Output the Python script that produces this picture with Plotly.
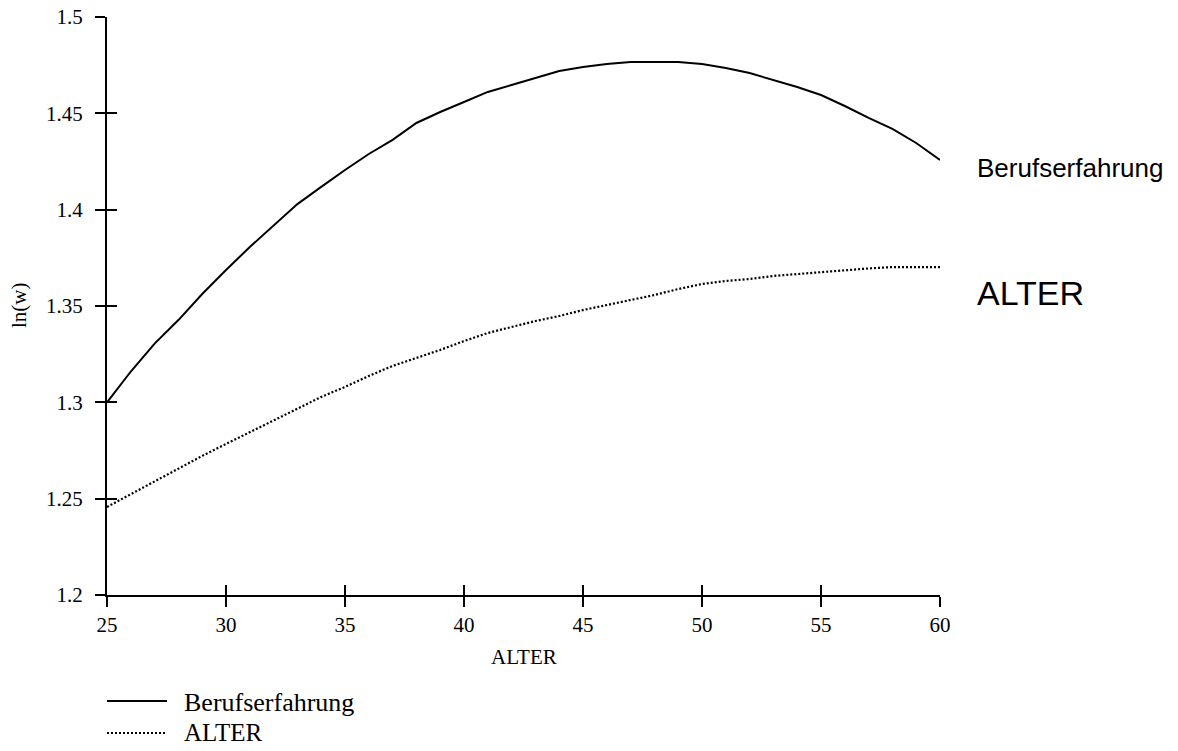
import plotly.graph_objects as go

# ---- data ----
alter = list(range(25, 61))
berufserfahrung = [
    1.3000, 1.3160, 1.3305, 1.3427, 1.3562, 1.3687, 1.3806, 1.3920, 1.4029, 1.4118,
    1.4206, 1.4289, 1.4362, 1.4450, 1.4507, 1.4559, 1.4611, 1.4647, 1.4683, 1.4720,
    1.4740, 1.4756, 1.4766, 1.4766, 1.4766, 1.4756, 1.4735, 1.4709, 1.4673, 1.4637,
    1.4595, 1.4538, 1.4476, 1.4419, 1.4346, 1.4258,
]
alter_curve = [
    1.2457, 1.2524, 1.2592, 1.2659, 1.2722, 1.2784, 1.2846, 1.2908, 1.2968, 1.3028,
    1.3080, 1.3137, 1.3189, 1.3230, 1.3272, 1.3318, 1.3360, 1.3391, 1.3422, 1.3448,
    1.3479, 1.3505, 1.3531, 1.3557, 1.3588, 1.3614, 1.3630, 1.3640, 1.3656, 1.3666,
    1.3676, 1.3687, 1.3695, 1.3702, 1.3702, 1.3702,
]
x_ticks = [25, 30, 35, 40, 45, 50, 55, 60]
y_ticks = [1.2, 1.25, 1.3, 1.35, 1.4, 1.45, 1.5]
x_range = [25, 60]
y_range = [1.2, 1.5]
series_names = ["Berufserfahrung", "ALTER"]
x_title = "ALTER"
y_title = "ln(w)"

SERIF = "Liberation Serif, Times New Roman, serif"
SANS = "Liberation Sans, Arial, sans-serif"

fig = go.Figure()
fig.add_trace(go.Scatter(
    x=alter, y=berufserfahrung, mode="lines", name=series_names[0],
    line=dict(color="black", width=2), xaxis="x", yaxis="y",
))
fig.add_trace(go.Scatter(
    x=alter, y=alter_curve, mode="lines", name=series_names[1],
    line=dict(color="black", width=2.2, dash="2px,2px"), xaxis="x2", yaxis="y2",
))

EPS = 1e-6
common_x = dict(range=[x_range[0] - EPS, x_range[1] + EPS], tickmode="array",
                tickvals=x_ticks, showgrid=False, zeroline=False, ticklen=10,
                tickwidth=2, tickcolor="black", automargin=False,
                ticklabeloverflow="allow")
common_y = dict(range=[y_range[0] - EPS, y_range[1] + EPS], tickmode="array",
                tickvals=y_ticks, ticktext=[f"{v:g}" for v in y_ticks],
                showgrid=False, zeroline=False, ticklen=10,
                tickwidth=2, tickcolor="black", automargin=False,
                ticklabeloverflow="allow")

# plot area at 107..940 x 17..595 in the 1178x751 window
fig.update_layout(
    width=1178, height=751,
    margin=dict(l=107, r=1178 - 940, t=17, b=751 - 595),
    paper_bgcolor="white", plot_bgcolor="white",
    showlegend=False,
    xaxis=dict(**common_x, ticks="outside", showline=True, linewidth=2,
               linecolor="black",
               tickfont=dict(family=SERIF, size=21, color="black")),
    yaxis=dict(**common_y, ticks="outside", showline=True, linewidth=2,
               linecolor="black", ticklabelstandoff=8,
               tickfont=dict(family=SERIF, size=21, color="black")),
    xaxis2=dict(**common_x, ticks="inside", overlaying="x", showline=False,
                showticklabels=False, anchor="y2"),
    yaxis2=dict(**common_y, ticks="inside", overlaying="y", showline=False,
                showticklabels=False, anchor="x2"),
)

PW, PH = 833.0, 578.0


def px_x(p):
    return (p - 107) / PW


def px_y(p):
    return (595 - p) / PH


annotations = [
    # axis titles
    dict(text=x_title, x=px_x(524), y=px_y(657), xref="paper", yref="paper",
         showarrow=False, xanchor="center", yanchor="middle",
         font=dict(family=SERIF, size=21, color="black")),
    dict(text=y_title, x=px_x(19), y=px_y(305), xref="paper", yref="paper",
         showarrow=False, xanchor="center", yanchor="middle", textangle=-90,
         font=dict(family=SERIF, size=21, color="black")),
    # curve labels at right
    dict(text=series_names[0], x=px_x(975), y=px_y(168), xref="paper", yref="paper",
         showarrow=False, xanchor="left", yanchor="middle",
         font=dict(family=SANS, size=26, color="black")),
    dict(text=series_names[1], x=px_x(975), y=px_y(293), xref="paper", yref="paper",
         showarrow=False, xanchor="left", yanchor="middle",
         font=dict(family=SANS, size=34, color="black")),
    # legend texts
    dict(text=series_names[0], x=px_x(182), y=px_y(702), xref="paper", yref="paper",
         showarrow=False, xanchor="left", yanchor="middle",
         font=dict(family=SERIF, size=26, color="black")),
    dict(text=series_names[1], x=px_x(182), y=px_y(732), xref="paper", yref="paper",
         showarrow=False, xanchor="left", yanchor="middle",
         font=dict(family=SERIF, size=25, color="black")),
]
fig.update_layout(annotations=annotations)

shapes = [
    dict(type="line", xref="paper", yref="paper", x0=px_x(107), x1=px_x(167),
         y0=px_y(701), y1=px_y(701), line=dict(color="black", width=2)),
    dict(type="line", xref="paper", yref="paper", x0=px_x(107), x1=px_x(167),
         y0=px_y(733), y1=px_y(733), line=dict(color="black", width=2.2, dash="2px,2px")),
]
fig.update_layout(shapes=shapes)

# remove the browser's default 8px body margin so the figure fills the window
fig.write_html(
    "out.html",
    config={"displayModeBar": False},
    post_script="document.body.style.margin='0';document.body.style.overflow='hidden';",
)
